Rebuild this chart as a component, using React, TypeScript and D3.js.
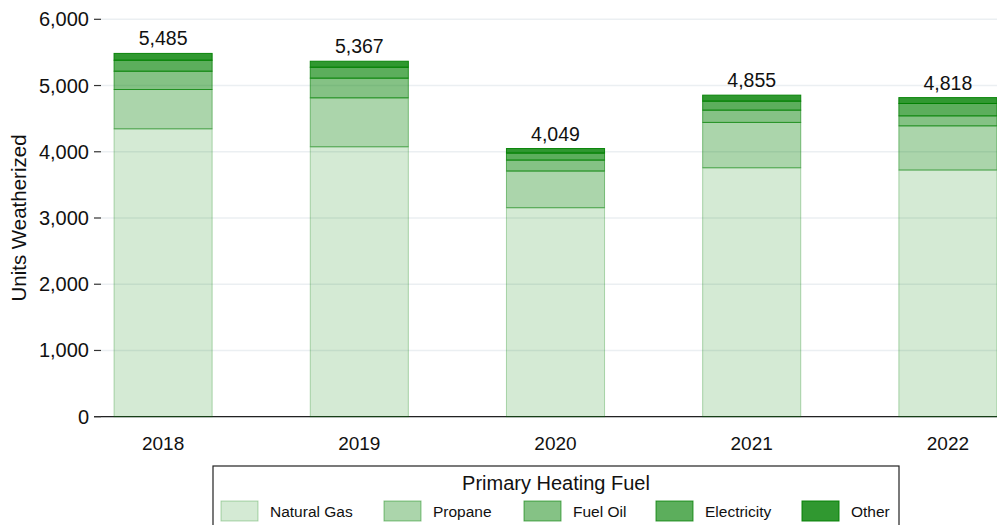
import React from "react";
import * as d3 from "d3";

const years = ["2018", "2019", "2020", "2021", "2022"];
const fuels = ["Natural Gas", "Propane", "Fuel Oil", "Electricity", "Other"];
const naturalGas = [4346, 4075, 3155, 3758, 3724];
const propane = [594, 739, 554, 685, 667];
const fuelOil = [276, 297, 165, 185, 151];
const electricity = [166, 165, 106, 136, 187];
const other = [103, 91, 69, 91, 89];
const yTicks = [0, 1000, 2000, 3000, 4000, 5000, 6000];
const fuelOpacity = [0.17, 0.33, 0.48, 0.64, 0.81];

const W = 997;
const H = 525;
const FONT = "'Liberation Sans', Arial, Helvetica, sans-serif";

export default function App() {
  const series = [naturalGas, propane, fuelOil, electricity, other];
  const rows = years.map((y, i) => {
    const r: any = { year: y };
    fuels.forEach((f, k) => (r[f] = series[k][i]));
    return r;
  });
  const stack = d3.stack<any>().keys(fuels)(rows);
  const totals = years.map((_, i) => series.reduce((s, arr) => s + arr[i], 0));

  const x = d3.scaleBand().domain(years).range([65, 1046]).paddingInner(0.5).paddingOuter(0.25);
  const y = d3.scaleLinear().domain([0, 6000]).range([416.7, 19.3]);
  const fmt = d3.format(",");
  const plotLeft = 101;

  const legendX = [221, 384, 524, 656, 802];

  return (
    <svg width={W} height={H} style={{ position: "absolute", left: 0, top: 0, display: "block", background: "#fff" }} fontFamily={FONT}>
      {yTicks.map((t) => (
        <line key={"g" + t} x1={plotLeft} x2={W} y1={y(t)} y2={y(t)} stroke="#ebeff2" strokeWidth={1.5} />
      ))}
      <line x1={94} x2={W} y1={y(0)} y2={y(0)} stroke="#222" strokeWidth={1.3} />
      {yTicks.map((t) => (
        <g key={"t" + t}>
          <line x1={94} x2={101} y1={y(t)} y2={y(t)} stroke="#333" strokeWidth={1.2} />
          <text x={89} y={y(t)} textAnchor="end" dominantBaseline="central" fontSize={20} fill="#111">
            {fmt(t)}
          </text>
        </g>
      ))}
      <text transform={`translate(26,${(y(0) + y(6000)) / 2}) rotate(-90)`} textAnchor="middle" fontSize={20.5} fill="#111">
        Units Weatherized
      </text>
      {stack.map((layer, k) => (
        <g key={layer.key}>
          {layer.map((d, i) => (
            <rect
              key={i}
              x={x(years[i])!}
              width={x.bandwidth()}
              y={y(d[1])}
              height={y(d[0]) - y(d[1])}
              fill="rgb(0,128,0)"
              fillOpacity={fuelOpacity[k]}
              stroke="rgb(0,128,0)"
              strokeOpacity={Math.min(1, fuelOpacity[k] + 0.12)}
              strokeWidth={1}
            />
          ))}
        </g>
      ))}
      {years.map((yr, i) => (
        <text key={"v" + yr} x={x(yr)! + x.bandwidth() / 2} y={y(totals[i]) - 8} textAnchor="middle" fontSize={19.5} fill="#111">
          {fmt(totals[i])}
        </text>
      ))}
      {years.map((yr) => (
        <text key={"x" + yr} x={x(yr)! + x.bandwidth() / 2} y={450} textAnchor="middle" fontSize={19} fill="#111">
          {yr}
        </text>
      ))}
      <rect x={213} y={466} width={686} height={80} fill="#fff" stroke="#222" strokeWidth={1.2} />
      <text x={556} y={490} textAnchor="middle" fontSize={20} fill="#111">
        Primary Heating Fuel
      </text>
      {fuels.map((f, k) => (
        <g key={"l" + f}>
          <rect x={legendX[k]} y={501} width={37} height={20} fill="rgb(0,128,0)" fillOpacity={fuelOpacity[k]} stroke="rgb(0,128,0)" strokeOpacity={Math.min(1, fuelOpacity[k] + 0.12)} />
          <text x={legendX[k] + 49} y={511} dominantBaseline="central" fontSize={15.5} fill="#111">
            {f}
          </text>
        </g>
      ))}
    </svg>
  );
}
